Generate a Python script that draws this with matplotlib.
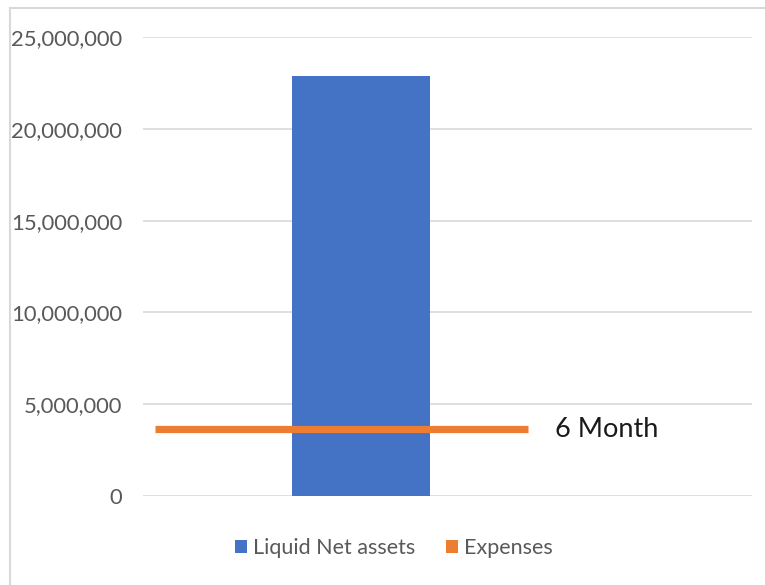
"""Liquid net assets vs six months of expenses, Excel-style bar chart."""

import matplotlib
matplotlib.use("Agg")
import matplotlib.pyplot as plt
import matplotlib.ticker as ticker
from matplotlib.lines import Line2D
from matplotlib.patches import Patch

# ---------------------------------------------------------------------------
# Data
# ---------------------------------------------------------------------------

series_names = ["Liquid Net assets", "Expenses"]
liquid_net_assets = [22_900_000]
expenses_6_month = [3_630_000]
line_label = "6 Month"
y_ticks = [0, 5_000_000, 10_000_000, 15_000_000, 20_000_000, 25_000_000]

# ---------------------------------------------------------------------------
# Style
# ---------------------------------------------------------------------------

BAR_COLOR = "#4472C4"
LINE_COLOR = "#ED7D31"
GRID_COLOR = "#d9d9d9"
TEXT_COLOR = "#595959"
FONT = ["Lato", "DejaVu Sans"]

plt.rcParams["font.family"] = FONT

fig = plt.figure(figsize=(7.65, 5.85), dpi=100)
fig.patch.set_facecolor("white")
ax = fig.add_axes([143 / 765, 1 - 496 / 585, (752 - 143) / 765, (496 - 37) / 585])

# bar and expense line positions along the category axis (0..1 across plot)
bar_x = 0.358
bar_w = 0.227
line_x0, line_x1 = 0.0197, 0.632

ax.bar([bar_x], liquid_net_assets, width=bar_w, color=BAR_COLOR, zorder=3)
ax.plot([line_x0, line_x1], [expenses_6_month[0]] * 2, color=LINE_COLOR,
        linewidth=5.2, solid_capstyle="butt", zorder=4)
ax.text(0.6765, expenses_6_month[0], line_label, fontsize=19.5, color="#1a1a1a",
        ha="left", va="center")

ax.set_xlim(0, 1)
ax.set_ylim(0, 25_000_000)
ax.set_yticks(y_ticks)
ax.yaxis.set_major_formatter(ticker.FuncFormatter(lambda v, _: f"{int(v):,}"))
ax.tick_params(axis="y", length=0, pad=15, labelsize=15.8, labelcolor=TEXT_COLOR)
ax.tick_params(axis="x", bottom=False, labelbottom=False)
ax.yaxis.grid(True, color=GRID_COLOR, linewidth=1.2, zorder=0)
ax.set_axisbelow(True)
for spine in ax.spines.values():
    spine.set_visible(False)

handles = [Patch(facecolor=BAR_COLOR, edgecolor="none"),
           Patch(facecolor=LINE_COLOR, edgecolor="none")]
fig.legend(handles, series_names, loc="center", bbox_to_anchor=(394 / 765, 1 - 548 / 585),
           ncol=2, frameon=False, fontsize=15.5, labelcolor=TEXT_COLOR,
           handlelength=0.55, handleheight=0.55, handletextpad=0.3, columnspacing=1.4)

# thin chart-area border visible on left and top
fig.add_artist(Line2D([10 / 765, 10 / 765], [0, 1 - 8 / 585], color=GRID_COLOR,
                      linewidth=1.5, transform=fig.transFigure))
fig.add_artist(Line2D([10 / 765, 1], [1 - 8 / 585, 1 - 8 / 585], color=GRID_COLOR,
                      linewidth=1.5, transform=fig.transFigure))

fig.savefig("out.png", dpi=100, facecolor=fig.get_facecolor())
